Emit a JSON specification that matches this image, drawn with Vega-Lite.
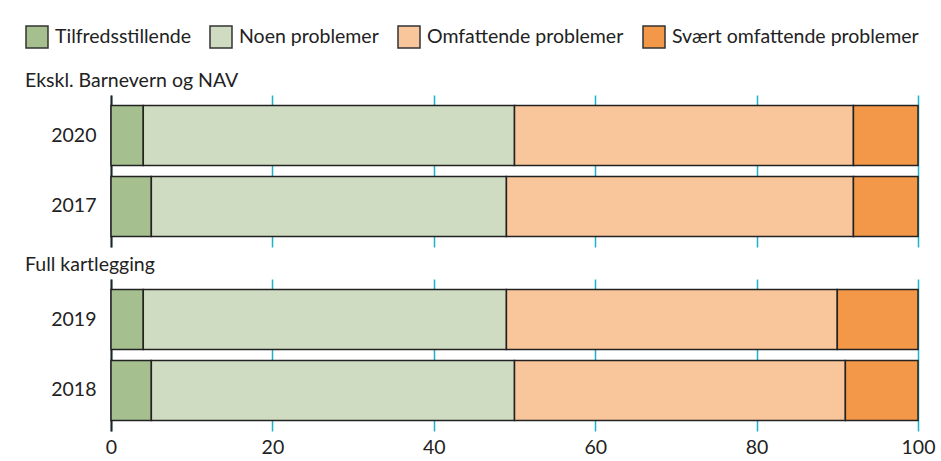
{
  "$schema": "https://vega.github.io/schema/vega-lite/v6.json",
  "padding": {"left": 25, "top": 25, "right": 5, "bottom": 5},
  "background": "white",
  "config": {
    "font": "Lato",
    "view": {"stroke": null},
    "concat": {"spacing": 7},
    "title": {"fontSize": 19.5, "fontWeight": "normal", "color": "#222", "anchor": "start", "frame": "bounds", "offset": 4}
  },
  "datasets": {
    "d": [
      {"group": "A", "year": "2020", "category": "Tilfredsstillende", "order": 1, "value": 4},
      {"group": "A", "year": "2020", "category": "Noen problemer", "order": 2, "value": 46},
      {"group": "A", "year": "2020", "category": "Omfattende problemer", "order": 3, "value": 42},
      {"group": "A", "year": "2020", "category": "Svært omfattende problemer", "order": 4, "value": 8},
      {"group": "A", "year": "2017", "category": "Tilfredsstillende", "order": 1, "value": 5},
      {"group": "A", "year": "2017", "category": "Noen problemer", "order": 2, "value": 44},
      {"group": "A", "year": "2017", "category": "Omfattende problemer", "order": 3, "value": 43},
      {"group": "A", "year": "2017", "category": "Svært omfattende problemer", "order": 4, "value": 8},
      {"group": "B", "year": "2019", "category": "Tilfredsstillende", "order": 1, "value": 4},
      {"group": "B", "year": "2019", "category": "Noen problemer", "order": 2, "value": 45},
      {"group": "B", "year": "2019", "category": "Omfattende problemer", "order": 3, "value": 41},
      {"group": "B", "year": "2019", "category": "Svært omfattende problemer", "order": 4, "value": 10},
      {"group": "B", "year": "2018", "category": "Tilfredsstillende", "order": 1, "value": 5},
      {"group": "B", "year": "2018", "category": "Noen problemer", "order": 2, "value": 45},
      {"group": "B", "year": "2018", "category": "Omfattende problemer", "order": 3, "value": 41},
      {"group": "B", "year": "2018", "category": "Svært omfattende problemer", "order": 4, "value": 9}
    ]
  },
  "vconcat": [
    {
      "title": {"text": "Ekskl. Barnevern og NAV"},
      "width": 807,
      "height": 152,
      "data": {"name": "d"},
      "transform": [{"filter": "datum.group == 'A'"}],
      "mark": {"type": "bar", "stroke": "#222", "strokeWidth": 1.5},
      "encoding": {
        "y": {
          "field": "year", "type": "nominal", "sort": ["2020", "2017"],
          "scale": {"paddingInner": 0.157, "paddingOuter": 0.149},
          "axis": {"title": null, "ticks": false, "domainColor": "#222", "domainWidth": 2, "labelFontSize": 19.5, "labelColor": "#222", "labelPadding": 15, "minExtent": 86}
        },
        "x": {
          "field": "value", "type": "quantitative", "stack": "zero",
          "scale": {"domain": [0, 100], "nice": false},
          "axis": {"title": null, "labels": false, "ticks": false, "domain": false, "values": [0, 20, 40, 60, 80, 100], "gridColor": "#1ab3c8", "gridWidth": 1.5, "gridOpacity": 1}
        },
        "color": {
          "field": "category", "type": "nominal",
          "sort": ["Tilfredsstillende", "Noen problemer", "Omfattende problemer", "Svært omfattende problemer"],
          "scale": {
            "domain": ["Tilfredsstillende", "Noen problemer", "Omfattende problemer", "Svært omfattende problemer"],
            "range": ["#a5c08e", "#cfdcc2", "#f9c69c", "#f39848"]
          },
          "legend": {
            "orient": "none", "legendX": -86, "legendY": -70, "direction": "horizontal", "title": null,
            "labelFontSize": 19.5, "labelColor": "#222", "labelOffset": 6, "labelLimit": 0,
            "symbolType": "square", "symbolSize": 484, "symbolStrokeColor": "#333", "symbolStrokeWidth": 1.5,
            "columnPadding": 16
          }
        },
        "order": {"field": "order", "type": "quantitative"}
      }
    },
    {
      "title": {"text": "Full kartlegging"},
      "width": 807,
      "height": 152,
      "data": {"name": "d"},
      "transform": [{"filter": "datum.group == 'B'"}],
      "mark": {"type": "bar", "stroke": "#222", "strokeWidth": 1.5},
      "encoding": {
        "y": {
          "field": "year", "type": "nominal", "sort": ["2019", "2018"],
          "scale": {"paddingInner": 0.157, "paddingOuter": 0.149},
          "axis": {"title": null, "ticks": false, "domainColor": "#222", "domainWidth": 2, "labelFontSize": 19.5, "labelColor": "#222", "labelPadding": 15, "minExtent": 86}
        },
        "x": {
          "field": "value", "type": "quantitative", "stack": "zero",
          "scale": {"domain": [0, 100], "nice": false},
          "axis": {"title": null, "ticks": false, "domain": false, "values": [0, 20, 40, 60, 80, 100], "labelFlush": false, "labelFontSize": 19.5, "labelColor": "#222", "labelPadding": 7, "gridColor": "#1ab3c8", "gridWidth": 1.5, "gridOpacity": 1}
        },
        "color": {
          "field": "category", "type": "nominal",
          "sort": ["Tilfredsstillende", "Noen problemer", "Omfattende problemer", "Svært omfattende problemer"],
          "scale": {
            "domain": ["Tilfredsstillende", "Noen problemer", "Omfattende problemer", "Svært omfattende problemer"],
            "range": ["#a5c08e", "#cfdcc2", "#f9c69c", "#f39848"]
          },
          "legend": null
        },
        "order": {"field": "order", "type": "quantitative"}
      }
    }
  ]
}
